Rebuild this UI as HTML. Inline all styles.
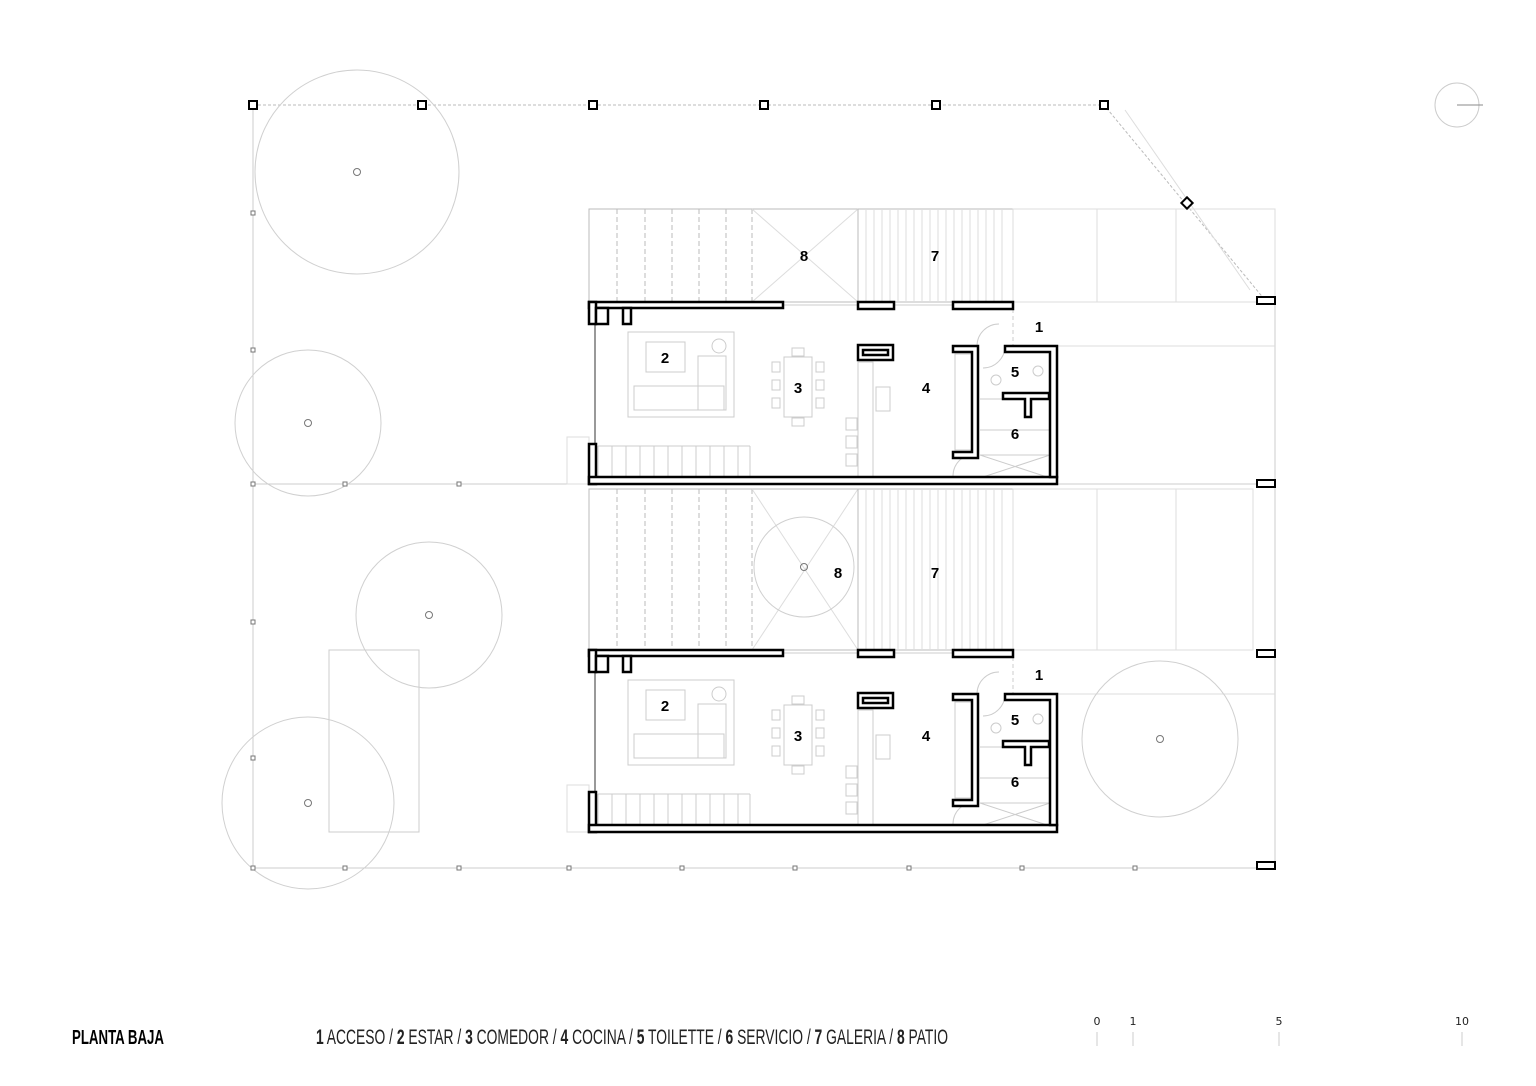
<!DOCTYPE html>
<html><head><meta charset="utf-8"><style>
html,body{margin:0;padding:0;background:#fff;}
svg{display:block}
.t{font-family:"Liberation Sans Narrow","Liberation Sans",sans-serif;}
</style></head><body>
<svg width="1536" height="1086" viewBox="0 0 1536 1086" xmlns="http://www.w3.org/2000/svg">
<defs>
<g id="house">
  <g fill="none" stroke="#ccc" stroke-width="1">
    <rect x="628" y="332" width="106" height="85"/>
    <rect x="646" y="342" width="39" height="30"/>
    <rect x="634" y="386" width="90" height="24"/>
    <rect x="698" y="356" width="28" height="54"/>
    <circle cx="719" cy="346" r="7"/>
    <rect x="784" y="357" width="28" height="60"/>
    <rect x="772" y="362" width="8" height="10"/><rect x="772" y="380" width="8" height="10"/><rect x="772" y="398" width="8" height="10"/>
    <rect x="816" y="362" width="8" height="10"/><rect x="816" y="380" width="8" height="10"/><rect x="816" y="398" width="8" height="10"/>
    <rect x="792" y="348" width="12" height="8"/><rect x="792" y="418" width="12" height="8"/>
    <rect x="858" y="362" width="15" height="116"/>
    <rect x="876" y="387" width="14" height="24"/>
    <rect x="846" y="418" width="11" height="12"/><rect x="846" y="436" width="11" height="12"/><rect x="846" y="454" width="11" height="12"/>
    <rect x="955" y="354" width="17" height="96"/>
    <path d="M598 446 H750 M598 446 V476 M612 446V476 M626 446V476 M640 446V476 M654 446V476 M668 446V476 M682 446V476 M696 446V476 M710 446V476 M724 446V476 M738 446V476 M750 446V476"/>
    <path d="M980 399 H1003 M980 430 H1050 M980 455 H1050 L980 478 M980 455 L1050 478"/>
    <circle cx="1038" cy="371" r="5"/><circle cx="996" cy="380" r="5"/>
    <path d="M977 346 A 22 22 0 0 1 999 324 M1005 346 A 22 22 0 0 1 983 368 M953 476 A 22 22 0 0 1 975 454"/>
    <path d="M595 322 V444" stroke="#999" stroke-width="2"/>
    <path d="M783 305 H858 M893 305 H953"/>
    <path d="M1013 302 V346" stroke-dasharray="4 3"/>
  </g>
  <g fill="#fff" stroke="#000" stroke-width="2.5">
    <rect x="589" y="302" width="194" height="6"/>
    <rect x="589" y="302" width="7" height="22"/>
    <rect x="596" y="308" width="12" height="16"/>
    <rect x="623" y="308" width="8" height="16"/>
    <rect x="858" y="302" width="36" height="7"/>
    <rect x="953" y="302" width="60" height="7"/>
    <rect x="589" y="444" width="7" height="40"/>
    <rect x="589" y="477" width="468" height="7"/>
    <path d="M1005 346 H1057 V477 H1050 V352 H1005 Z"/>
    <path d="M953 346 H978 V458 H953 V452 H972 V352 H953 Z"/>
    <path d="M1003 393 H1049 V399 H1031 V417 H1025 V399 H1003 Z"/>
    <rect x="858" y="345" width="35" height="15"/>
    <rect x="863" y="350" width="25" height="5"/>
  </g>
  <g class="t" font-weight="bold" font-size="15" text-anchor="middle" fill="#000">
    <text x="665" y="363">2</text><text x="798" y="393">3</text><text x="926" y="393">4</text>
    <text x="1015" y="377">5</text><text x="1015" y="439">6</text><text x="1039" y="332">1</text>
  </g>
</g>
</defs>

<g fill="none" stroke="#bbb" stroke-width="1">
  <path d="M253 105 H1104 L1265 300" stroke-dasharray="3 2"/>
  <path d="M253 105 V868 H1275 V300" stroke="#ccc"/>
  <path d="M253 484 H1275" stroke="#ccc"/>
  <path d="M1125 110 L1250 290" stroke="#ddd"/>
  <rect x="589" y="209" width="424" height="93"/>
  <path d="M617 209V302 M645 209V302 M672 209V302 M699 209V302 M726 209V302 M752 209V302" stroke-dasharray="5 3"/>
  <path d="M752 209 L858 302 M858 209 L752 302" stroke="#ddd"/>
  <path d="M858 209V302 M1013 209 V302"/>
  <path d="M866 209V302 M874 209V302 M882 209V302 M890 209V302 M898 209V302 M906 209V302 M914 209V302 M922 209V302 M930 209V302 M938 209V302 M946 209V302 M954 209V302 M962 209V302 M970 209V302 M978 209V302 M986 209V302 M994 209V302 M1002 209V302" stroke="#ddd"/>
  <rect x="1013" y="209" width="262" height="93" stroke="#ddd"/>
  <path d="M1097 209V302 M1176 209V302" stroke="#ddd"/>
  <path d="M1057 346 H1275" stroke="#ddd"/>
  <rect x="589" y="489" width="424" height="161"/>
  <path d="M617 489V650 M645 489V650 M672 489V650 M699 489V650 M726 489V650 M752 489V650" stroke-dasharray="5 3"/>
  <path d="M752 489 L858 650 M858 489 L752 650" stroke="#ddd"/>
  <path d="M858 489V650"/>
  <path d="M866 489V650 M874 489V650 M882 489V650 M890 489V650 M898 489V650 M906 489V650 M914 489V650 M922 489V650 M930 489V650 M938 489V650 M946 489V650 M954 489V650 M962 489V650 M970 489V650 M978 489V650 M986 489V650 M994 489V650 M1002 489V650" stroke="#ddd"/>
  <rect x="1013" y="489" width="240" height="161" stroke="#ddd"/>
  <path d="M1097 489V650 M1176 489V650 M1253 489V650" stroke="#ddd"/>
  <path d="M1057 694 H1275" stroke="#ddd"/>
  <rect x="567" y="437" width="22" height="47" stroke="#ddd"/>
  <rect x="567" y="785" width="22" height="47" stroke="#ddd"/>
  <rect x="329" y="650" width="90" height="182" stroke="#ccc"/>
  <circle cx="357" cy="172" r="102" stroke="#d0d0d0"/>
  <circle cx="308" cy="423" r="73" stroke="#d0d0d0"/>
  <circle cx="429" cy="615" r="73" stroke="#d0d0d0"/>
  <circle cx="308" cy="803" r="86" stroke="#d0d0d0"/>
  <circle cx="1160" cy="739" r="78" stroke="#d0d0d0"/>
  <circle cx="804" cy="567" r="50" stroke="#d0d0d0"/>
  <g stroke="#777">
  <circle cx="357" cy="172" r="3.5"/><circle cx="308" cy="423" r="3.5"/><circle cx="429" cy="615" r="3.5"/>
  <circle cx="308" cy="803" r="3.5"/><circle cx="1160" cy="739" r="3.5"/><circle cx="804" cy="567" r="3.5"/>
  </g>
</g>
<g fill="#fff" stroke="#777" stroke-width="1">
  <rect x="251" y="211" width="4" height="4"/><rect x="251" y="348" width="4" height="4"/><rect x="251" y="482" width="4" height="4"/>
  <rect x="251" y="620" width="4" height="4"/><rect x="251" y="756" width="4" height="4"/><rect x="251" y="866" width="4" height="4"/>
  <rect x="343" y="866" width="4" height="4"/><rect x="457" y="866" width="4" height="4"/><rect x="567" y="866" width="4" height="4"/>
  <rect x="680" y="866" width="4" height="4"/><rect x="793" y="866" width="4" height="4"/><rect x="907" y="866" width="4" height="4"/>
  <rect x="1020" y="866" width="4" height="4"/><rect x="1133" y="866" width="4" height="4"/>
  <rect x="343" y="482" width="4" height="4"/><rect x="457" y="482" width="4" height="4"/>
</g>
<g fill="#fff" stroke="#000" stroke-width="2">
  <rect x="249" y="101" width="8" height="8"/><rect x="418" y="101" width="8" height="8"/><rect x="589" y="101" width="8" height="8"/>
  <rect x="760" y="101" width="8" height="8"/><rect x="932" y="101" width="8" height="8"/><rect x="1100" y="101" width="8" height="8"/>
  <rect x="1183" y="199" width="8" height="8" transform="rotate(45 1187 203)"/>
  <rect x="1257" y="297" width="18" height="7"/><rect x="1257" y="480" width="18" height="7"/>
  <rect x="1257" y="650" width="18" height="7"/><rect x="1257" y="862" width="18" height="7"/>
</g>

<use href="#house"/>
<use href="#house" transform="translate(0,348)"/>

<g class="t" font-weight="bold" font-size="15" text-anchor="middle">
  <text x="804" y="261">8</text><text x="935" y="261">7</text>
  <text x="838" y="578">8</text><text x="935" y="578">7</text>
</g>

<circle cx="1457" cy="105" r="22" fill="none" stroke="#ccc"/>
<line x1="1457" y1="105" x2="1483" y2="105" stroke="#888"/>

<text class="t" x="72" y="1044" font-size="20" font-weight="bold" textLength="92" lengthAdjust="spacingAndGlyphs">PLANTA BAJA</text>
<text class="t" x="316" y="1044" font-size="21" fill="#222" textLength="632" lengthAdjust="spacingAndGlyphs"><tspan font-weight="bold">1</tspan> ACCESO / <tspan font-weight="bold">2</tspan> ESTAR / <tspan font-weight="bold">3</tspan> COMEDOR / <tspan font-weight="bold">4</tspan> COCINA / <tspan font-weight="bold">5</tspan> TOILETTE / <tspan font-weight="bold">6</tspan> SERVICIO / <tspan font-weight="bold">7</tspan> GALERIA / <tspan font-weight="bold">8</tspan> PATIO</text>

<g font-family="DejaVu Sans, sans-serif" font-size="11" text-anchor="middle" fill="#222">
  <text x="1097" y="1025">0</text><text x="1133" y="1025">1</text><text x="1279" y="1025">5</text><text x="1462" y="1025">10</text>
</g>
<g stroke="#ccc"><path d="M1097 1032V1046 M1133 1032V1046 M1279 1032V1046 M1462 1032V1046"/></g>
</svg>
</body></html>
